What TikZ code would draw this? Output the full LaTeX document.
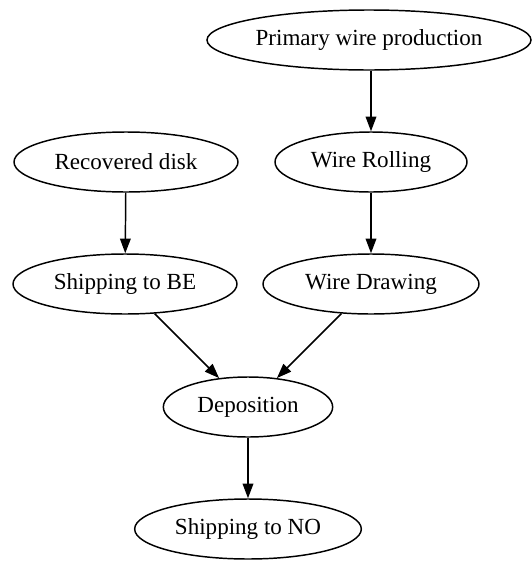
\documentclass[tikz,border=0pt]{standalone}
\usepackage{fontspec}
\setmainfont{Liberation Serif}
\usetikzlibrary{shapes.geometric,arrows.meta}
\begin{document}
\begin{tikzpicture}[x=0.75pt,y=-0.75pt,
  every node/.style={ellipse,draw,line width=1.1pt,inner sep=0pt,minimum height=45pt,
    font=\fontsize{17.3}{20}\selectfont},
  conn/.style={line width=1.1pt,-{Triangle[length=11pt,width=8pt]}}]
\useasboundingbox (0,0) rectangle (532,561);
\node[minimum width=243pt] (pwp) at (369,40) {Primary wire production};
\node[minimum width=168pt] (rd) at (126,162) {Recovered disk};
\node[minimum width=144pt] (wr) at (371,162) {Wire Rolling};
\node[minimum width=168pt] (be) at (125,284) {Shipping to BE};
\node[minimum width=162pt] (wd) at (371,284) {Wire Drawing};
\node[minimum width=127pt] (dep) at (248,407) {Deposition};
\node[minimum width=170pt] (no) at (248,529) {Shipping to NO};
\draw[conn] (pwp.south -| wr) -- (wr);
\draw[conn] (rd) -- (be);
\draw[conn] (wr) -- (wd);
\draw[conn] (be) -- (dep);
\draw[conn] (wd) -- (dep);
\draw[conn] (dep) -- (no);
\end{tikzpicture}
\end{document}
